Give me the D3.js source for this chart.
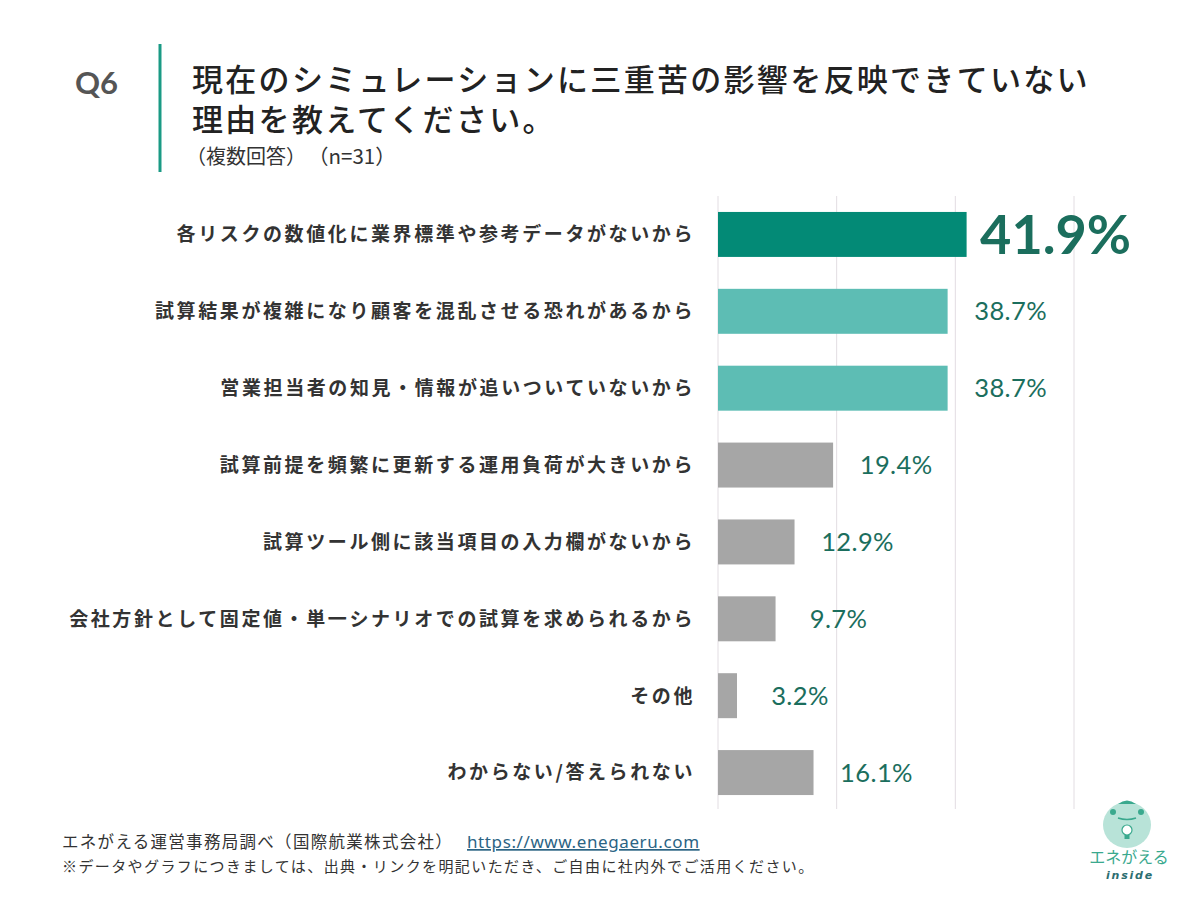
<!DOCTYPE html>
<html lang="ja">
<head>
<meta charset="UTF-8">
<title>Q6 三重苦の影響</title>
<script src="https://d3js.org/d3.v7.min.js"></script>
<style>
  body { margin: 0; background: #fff; }
  text { font-family: "Noto Sans CJK JP", "Noto Sans", sans-serif; }
  .val { font-family: Lato, "Noto Sans", sans-serif; }
</style>
</head>
<body>
<script>
// Data
const categories = [
  "各リスクの数値化に業界標準や参考データがないから",
  "試算結果が複雑になり顧客を混乱させる恐れがあるから",
  "営業担当者の知見・情報が追いついていないから",
  "試算前提を頻繁に更新する運用負荷が大きいから",
  "試算ツール側に該当項目の入力欄がないから",
  "会社方針として固定値・単一シナリオでの試算を求められるから",
  "その他",
  "わからない/答えられない"
];
const values = [41.9, 38.7, 38.7, 19.4, 12.9, 9.7, 3.2, 16.1];
const barColors = ["#038a76", "#5dbdb4", "#5dbdb4", "#a6a6a6", "#a6a6a6", "#a6a6a6", "#a6a6a6", "#a6a6a6"];
const gridTicks = [0, 20, 40, 60];
const titleLines = ["現在のシミュレーションに三重苦の影響を反映できていない", "理由を教えてください。"];

const W = 1200, H = 900;
const svg = d3.select("body").append("svg")
  .attr("width", W).attr("height", H);

// Header
svg.append("text").attr("x", 75).attr("y", 94)
  .attr("font-size", 31).attr("font-weight", 700).attr("fill", "#555")
  .style("font-family", "Lato, 'Noto Sans', sans-serif")
  .text("Q6");
svg.append("line").attr("x1", 160).attr("x2", 160).attr("y1", 44).attr("y2", 172)
  .attr("stroke", "#1a9a85").attr("stroke-width", 3);
svg.append("text").attr("y", 91)
  .attr("font-size", 31).attr("font-weight", 500).attr("fill", "#222")
  .attr("letter-spacing", 2.3)
  .selectAll("tspan").data(titleLines).join("tspan")
  .attr("x", 192)
  .attr("dy", (d, i) => i === 0 ? 0 : 40)
  .text(d => d);
svg.append("text").attr("x", 186).attr("y", 164)
  .attr("font-size", 20).attr("fill", "#333")
  .text("（複数回答）");
svg.append("text").attr("x", 308).attr("y", 164)
  .attr("font-size", 20.5).attr("fill", "#333")
  .text("（n=31）");

// Scales
const x = d3.scaleLinear().domain([0, 60]).range([718, 1074]);
const y = d3.scaleBand().domain(categories).range([196, 811]).paddingInner(0.415).paddingOuter(0.2075);

// Gridlines
svg.append("g").selectAll("line").data(gridTicks).join("line")
  .attr("x1", d => x(d)).attr("x2", d => x(d))
  .attr("y1", 196).attr("y2", 809)
  .attr("stroke", "#e2dde2").attr("stroke-width", 1);

// Bars
svg.append("g").selectAll("rect").data(values).join("rect")
  .attr("x", x(0))
  .attr("y", (d, i) => y(categories[i]))
  .attr("width", d => x(d) - x(0))
  .attr("height", y.bandwidth())
  .attr("fill", (d, i) => barColors[i]);

// Category labels
svg.append("g").selectAll("text").data(categories).join("text")
  .attr("x", 695)
  .attr("y", d => y(d) + y.bandwidth() / 2)
  .attr("dy", "0.36em")
  .attr("text-anchor", "end")
  .attr("font-size", 19).attr("font-weight", 700).attr("fill", "#333")
  .attr("letter-spacing", 2.6)
  .text(d => d);

// Value labels
svg.append("g").selectAll("text").data(values).join("text")
  .attr("class", "val")
  .attr("x", (d, i) => x(d) + (i === 0 ? 89 : 63))
  .attr("y", (d, i) => y(categories[i]) + y.bandwidth() / 2)
  .attr("dy", "0.36em")
  .attr("text-anchor", "middle")
  .attr("font-size", (d, i) => i === 0 ? 54 : 25.5)
  .attr("font-weight", (d, i) => i === 0 ? 700 : 400)
  .attr("letter-spacing", (d, i) => i === 0 ? 0 : 0.4)
  .attr("fill", "#1b6e5d")
  .text(d => d.toFixed(1) + "%");

// Footer
svg.append("text").attr("x", 62).attr("y", 848)
  .attr("font-size", 16.5).attr("fill", "#333")
  .attr("letter-spacing", 1.3)
  .text("エネがえる運営事務局調べ（国際航業株式会社）");
svg.append("text").attr("x", 467).attr("y", 848)
  .attr("font-size", 17).attr("fill", "#2b6484")
  .attr("letter-spacing", 0.6)
  .attr("text-decoration", "underline")
  .style("font-family", "'Noto Sans', sans-serif")
  .text("https://www.enegaeru.com");
svg.append("text").attr("x", 62).attr("y", 872)
  .attr("font-size", 15).attr("fill", "#333")
  .attr("letter-spacing", 1.4)
  .text("※データやグラフにつきましては、出典・リンクを明記いただき、ご自由に社内外でご活用ください。");

// Logo
const logo = svg.append("g").attr("transform", "translate(1127,825)");
logo.append("ellipse").attr("cx", 0).attr("cy", 0).attr("rx", 24).attr("ry", 23).attr("fill", "#b8e3d8");
logo.append("path").attr("d", "M-9,-21 Q0,-28 9,-21 Z").attr("fill", "#3aa98e");
logo.append("circle").attr("cx", -14).attr("cy", -13).attr("r", 3).attr("fill", "#3aa98e");
logo.append("circle").attr("cx", 14).attr("cy", -13).attr("r", 3).attr("fill", "#3aa98e");
logo.append("path").attr("d", "M-9,-7 Q0,-4 9,-7").attr("fill", "none").attr("stroke", "#3aa98e").attr("stroke-width", 1.5);
logo.append("circle").attr("cx", 0).attr("cy", 5).attr("r", 5).attr("fill", "#fff").attr("stroke", "#3aa98e").attr("stroke-width", 1.2);
logo.append("rect").attr("x", -2.5).attr("y", 10).attr("width", 5).attr("height", 4).attr("fill", "#3aa98e");
svg.append("text").attr("x", 1129).attr("y", 863).attr("text-anchor", "middle")
  .attr("font-size", 16).attr("fill", "#3aa98e").text("エネがえる");
svg.append("text").attr("x", 1130).attr("y", 879).attr("text-anchor", "middle")
  .attr("font-size", 11).attr("font-weight", 700).attr("font-style", "italic")
  .attr("letter-spacing", 1.8).attr("fill", "#2c6e70")
  .style("font-family", "'DejaVu Sans', sans-serif").text("inside");
</script>
</body>
</html>
